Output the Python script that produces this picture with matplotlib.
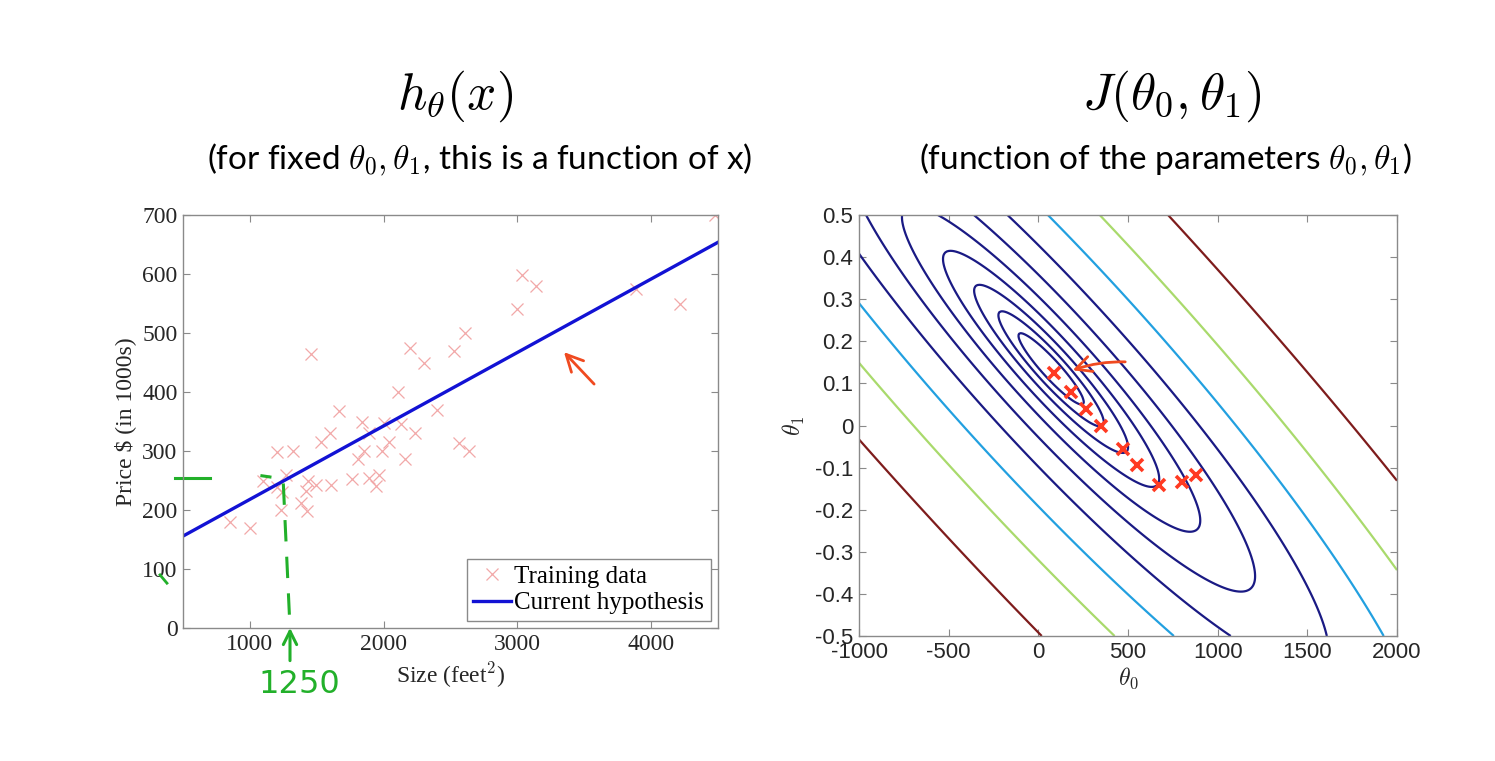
import matplotlib.pyplot as plt
import numpy as np

# training data (size in feet^2, price in $1000s)
size_sqft = [2104, 1600, 2400, 1416, 3000, 1985, 1534, 1427, 1380, 1494,
             1940, 2000, 1890, 4478, 1268, 2300, 1320, 1236, 2609, 3031,
             1767, 1888, 1604, 1962, 3890, 1100, 1458, 2526, 2200, 2637,
             1839, 1000, 2040, 3137, 1811, 1437, 1239, 2132, 4215, 2162,
             1664, 2238, 2567, 1200, 852, 1852, 1203]
price_k = [399.9, 329.9, 369.0, 232.0, 539.9, 299.9, 314.9, 199.0, 212.0, 242.5,
           240.0, 347.0, 330.0, 699.9, 259.9, 449.9, 299.9, 199.9, 500.0, 599.0,
           252.9, 255.0, 242.9, 259.9, 573.9, 249.9, 464.5, 469.0, 475.0, 299.9,
           349.9, 169.9, 314.9, 579.9, 285.9, 249.9, 229.9, 345.0, 549.0, 287.0,
           368.5, 329.9, 314.0, 299.0, 179.9, 299.9, 239.5]

# current hypothesis h(x) = theta0 + theta1 * x
hyp_theta0 = 93.5
hyp_theta1 = 0.1245
size_range = [500, 4500]

# red crosses on the cost plot
path_theta0 = [88, 182, 266, 350, 472, 550, 673, 801, 880]
path_theta1 = [0.125, 0.080, 0.039, -0.001, -0.056, -0.094, -0.141, -0.134, -0.118]

# visible cost levels (log spaced) and their colours
contour_levels = [4281, 7848, 14384, 26367, 48329, 88587, 162378, 297635, 545559, 1000000]
contour_colors = ["#1a1a84"] * 7 + ["#22a0e0", "#a9da6c", "#7e1c1c"]

plt.rcParams["mathtext.fontset"] = "cm"
plt.rcParams["axes.unicode_minus"] = False

SERIF = "Liberation Serif"
SANS = "Liberation Sans"
SPINE = "#8a8a8a"
TXT = "#262626"


def style_axes(ax, labelsize, family):
    for s in ax.spines.values():
        s.set_color(SPINE)
        s.set_linewidth(1.0)
    ax.tick_params(direction="in", top=True, right=True, length=5,
                   color=SPINE, labelsize=labelsize, labelcolor=TXT, pad=4)
    for lab in ax.get_xticklabels() + ax.get_yticklabels():
        lab.set_family(family)


def main():
    fig = plt.figure(figsize=(14.95, 7.61), dpi=100)

    # titles
    fig.text(455 / 1495, 1 - 96 / 761, r"$h_\theta(x)$", fontsize=37,
             ha="center", va="center", color="black")
    fig.text(480 / 1495, 1 - 160 / 761,
             r"(for fixed $\theta_0, \theta_1$, this is a function of x)",
             fontsize=24, family="Lato", ha="center", va="center")
    fig.text(1172 / 1495, 1 - 96 / 761, r"$J(\theta_0, \theta_1)$", fontsize=37,
             ha="center", va="center", color="black")
    fig.text(1166 / 1495, 1 - 160 / 761,
             r"(function of the parameters $\theta_0, \theta_1$)",
             fontsize=24, family="Lato", ha="center", va="center")

    # left: data and hypothesis
    ax = fig.add_axes([183 / 1495, 1 - 628 / 761, 535 / 1495, 413 / 761])
    ax.plot(size_sqft, price_k, linestyle="none", marker="x", ms=9, mew=0.9,
            color="#f2a8a8", label="Training data")
    xs = np.array(size_range)
    ax.plot(xs, hyp_theta0 + hyp_theta1 * xs, color="#1212d4", lw=2.4,
            label="Current hypothesis")
    ax.set_xlim(500, 4500)
    ax.set_ylim(0, 700)
    ax.set_xticks([1000, 2000, 3000, 4000])
    ax.set_yticks(np.arange(0, 701, 100))
    style_axes(ax, 17, SERIF)
    ax.set_xlabel(r"Size (feet$^2$)", family=SERIF, fontsize=17, color=TXT, labelpad=4)
    ax.set_ylabel(r"Price \$ (in 1000s)", family=SERIF, fontsize=17, color=TXT, labelpad=4)
    leg = ax.legend(loc="lower right", prop={"family": SERIF, "size": 18},
                    fancybox=False, edgecolor=SPINE, framealpha=1,
                    handlelength=1.5, handletextpad=0.15, borderaxespad=0.3,
                    borderpad=0.25, labelspacing=0.15)
    leg.get_frame().set_linewidth(1.0)

    # hand drawn notes
    green = "#22b02a"
    ax.plot([1250, 1300], [245, 0], color=green, lw=2.2, dashes=(7, 5))
    ax.plot([440, 702], [255, 255], color=green, lw=2.2, clip_on=False)
    ax.plot([1090, 1150], [258, 256], color=green, lw=2.2)
    ax.plot([328, 380], [90, 76], color=green, lw=2, clip_on=False)
    ax.annotate("", xy=(1300, 5), xytext=(1300, -60), annotation_clip=False,
                arrowprops=dict(arrowstyle="->", color=green, lw=2.2,
                                mutation_scale=24))
    ax.text(1370, -95, "1250", color=green, fontsize=23, ha="center",
            va="center", clip_on=False)
    ax.annotate("", xy=(3334, 471), xytext=(3588, 410),
                arrowprops=dict(arrowstyle="->", color="#f04a20", lw=2,
                                mutation_scale=30))

    # right: cost function contours
    ax2 = fig.add_axes([859 / 1495, 1 - 636 / 761, 538 / 1495, 421 / 761])
    t0 = np.linspace(-1000, 2000, 300)
    t1 = np.linspace(-0.5, 0.5, 300)
    T0, T1 = np.meshgrid(t0, t1)
    x = np.array(size_sqft)
    y = np.array(price_k)
    J = ((T0[..., None] + T1[..., None] * x - y) ** 2).mean(axis=-1) / 2
    ax2.contour(T0, T1, J, levels=contour_levels, colors=contour_colors,
                linewidths=1.6)
    ax2.plot(path_theta0, path_theta1, linestyle="none", marker="x", ms=8,
             mew=2.6, color="#ff3a22")
    ax2.annotate("", xy=(177, 0.129), xytext=(500, 0.151),
                 arrowprops=dict(arrowstyle="->", color="#f04a20", lw=2,
                                 mutation_scale=28,
                                 connectionstyle="arc3,rad=0.1"))
    ax2.set_xlim(-1000, 2000)
    ax2.set_ylim(-0.5, 0.5)
    ax2.set_xticks(np.arange(-1000, 2001, 500))
    ax2.set_yticks(np.round(np.arange(-0.5, 0.51, 0.1), 1))
    ax2.set_yticklabels(["-0.5", "-0.4", "-0.3", "-0.2", "-0.1", "0",
                         "0.1", "0.2", "0.3", "0.4", "0.5"])
    style_axes(ax2, 16, SANS)
    ax2.set_xlabel(r"$\theta_0$", fontsize=17, color=TXT, labelpad=2)
    ax2.set_ylabel(r"$\theta_1$", fontsize=17, color=TXT, labelpad=6)

    fig.savefig("out.png", dpi=100, facecolor="white")


if __name__ == "__main__":
    main()
